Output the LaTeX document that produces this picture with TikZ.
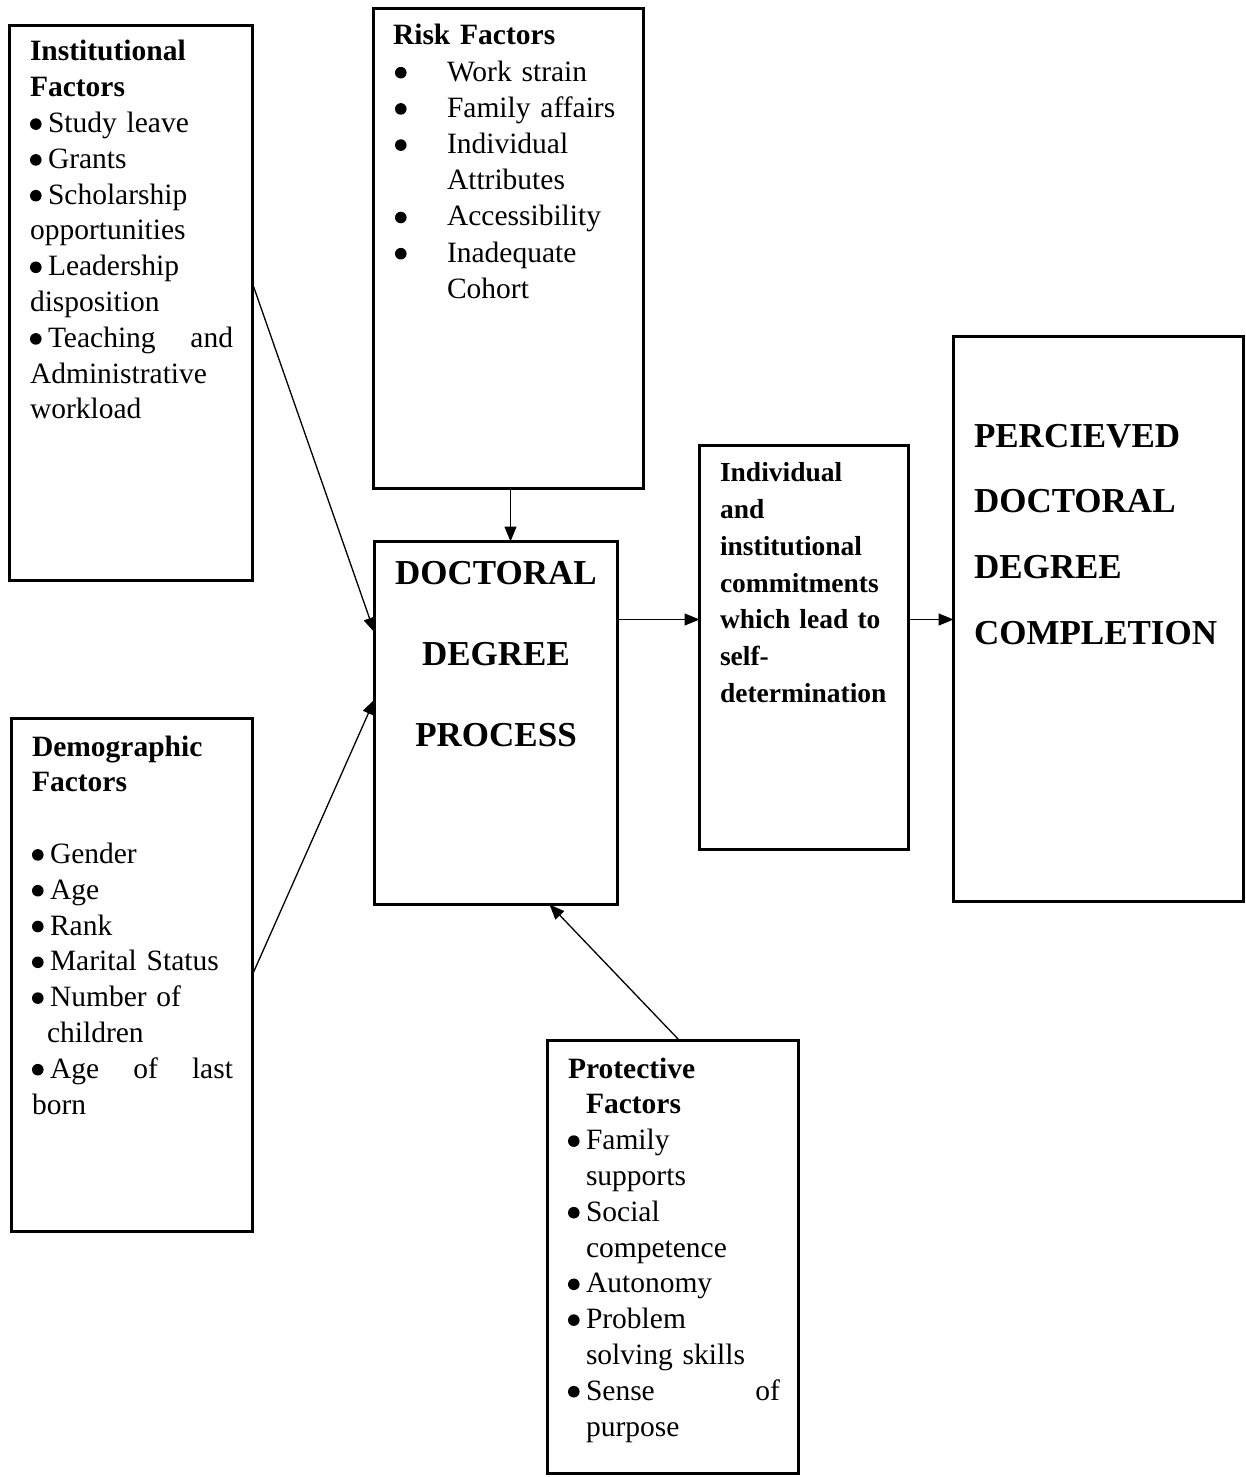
\documentclass[tikz,border=0pt]{standalone}
\usepackage{fontspec}
\setmainfont{Liberation Serif}
\usetikzlibrary{arrows.meta,calc}
\newcommand\fsbody{\fontsize{29.5}{35.8}\selectfont}
\newcommand\fsind{\fontsize{27.5}{36.85}\selectfont\bfseries}
\newcommand\bigdot{\tikz[baseline=0pt,x=1pt,y=1pt]\fill[black] (5.5,8.5) circle[radius=5.8pt];}
\newcommand\bl{\makebox[18pt][l]{\bigdot}}
\newcommand\ind{\hspace*{18pt}}
\newcommand\rb{\makebox[54pt][l]{\hspace*{2pt}\bigdot}}
\tikzset{
  box/.style={draw, line width=3pt, rectangle, outer sep=0pt, inner sep=0pt, anchor=north west},
  txt/.style={anchor=base west, inner sep=0pt, outer sep=0pt, align=left},
  conn/.style={line width=1.3pt, -{Triangle[length=15pt,width=12pt]}}
}
\begin{document}
\begin{tikzpicture}[x=1pt,y=-1pt]
\useasboundingbox (0,0) rectangle (1245,1477);
% boxes
\node[box, minimum width=243pt, minimum height=555pt] (inst) at (9.5,25.5) {};
\node[box, minimum width=270pt, minimum height=480pt] (risk) at (373.5,8.5) {};
\node[box, minimum width=243pt, minimum height=363pt] (dp) at (374.5,541.5) {};
\node[box, minimum width=209pt, minimum height=404pt] (ind) at (699.5,445.5) {};
\node[box, minimum width=290pt, minimum height=565pt] (perc) at (953.5,336.5) {};
\node[box, minimum width=241pt, minimum height=513pt] (demo) at (11.5,718.5) {};
\node[box, minimum width=251pt, minimum height=433pt] (prot) at (547.5,1040.5) {};
% texts
\node[txt, text width=203pt, font=\fsbody] (instt) at (30,61) {%
\textbf{Institutional}\\
\textbf{Factors}\\
\bl Study leave\\
\bl Grants\\
\bl Scholarship\\
opportunities\\
\bl Leadership\\
disposition\\
\bl Teaching\hfill and\\
Administrative\\
workload};
\node[txt, text width=250pt, font=\fontsize{29.5}{36.2}\selectfont] (riskt) at (393,45) {%
\textbf{Risk Factors}\\
\rb Work strain\\
\rb Family affairs\\
\rb Individual\\
\hspace*{54pt}Attributes\\
\rb Accessibility\\
\rb Inadequate\\
\hspace*{54pt}Cohort};
\node[anchor=base, inner sep=0pt, outer sep=0pt, align=center, text width=240pt, font=\fontsize{35}{81}\selectfont\bfseries] (dpt) at (496,584) {%
DOCTORAL\\ DEGREE\\ PROCESS};
\node[txt, text width=195pt, font=\fsind] (indt) at (720,481.5) {%
Individual\\
and\\
institutional\\
commitments\\
which lead to\\
self-\\
determination};
\node[txt, text width=270pt, font=\fontsize{35}{65.7}\selectfont\bfseries] (perct) at (974,447) {%
PERCIEVED\\
DOCTORAL\\
DEGREE\\
COMPLETION};
\node[txt, text width=201pt, font=\fsbody] (demot) at (32,756) {%
\textbf{Demographic}\\
\textbf{Factors}\\[35.8pt]
\bl Gender\\
\bl Age\\
\bl Rank\\
\bl Marital Status\\
\bl Number of\\
\hspace*{15pt}children\\
\bl Age\hfill of\hfill last\\
born};
\node[txt, text width=212pt, font=\fsbody] (prott) at (568,1078) {%
\textbf{Protective}\\
\ind\textbf{Factors}\\
\bl Family\\
\ind supports\\
\bl Social\\
\ind competence\\
\bl Autonomy\\
\bl Problem\\
\ind solving skills\\
\bl Sense\hfill of\\
\ind purpose};
% connectors
\draw[conn] ($(inst.north east)+(0,258)$) -- ($(dp.north west)+(0,91)$);
\draw[conn] ($(demo.north east)+(0,256)$) -- ($(dp.north west)+(0,158)$);
\draw[conn] ($(risk.south west)+(137,0)$) -- ($(dp.north west)+(136,0)$);
\draw[conn] ($(prot.north west)+(132,0)$) -- ($(dp.south west)+(175,0)$);
\draw[conn] ($(dp.north east)+(0,78)$) -- ($(ind.north west)+(0,174)$);
\draw[conn] ($(ind.north east)+(0,174)$) -- ($(perc.north west)+(0,283)$);
\end{tikzpicture}
\end{document}
